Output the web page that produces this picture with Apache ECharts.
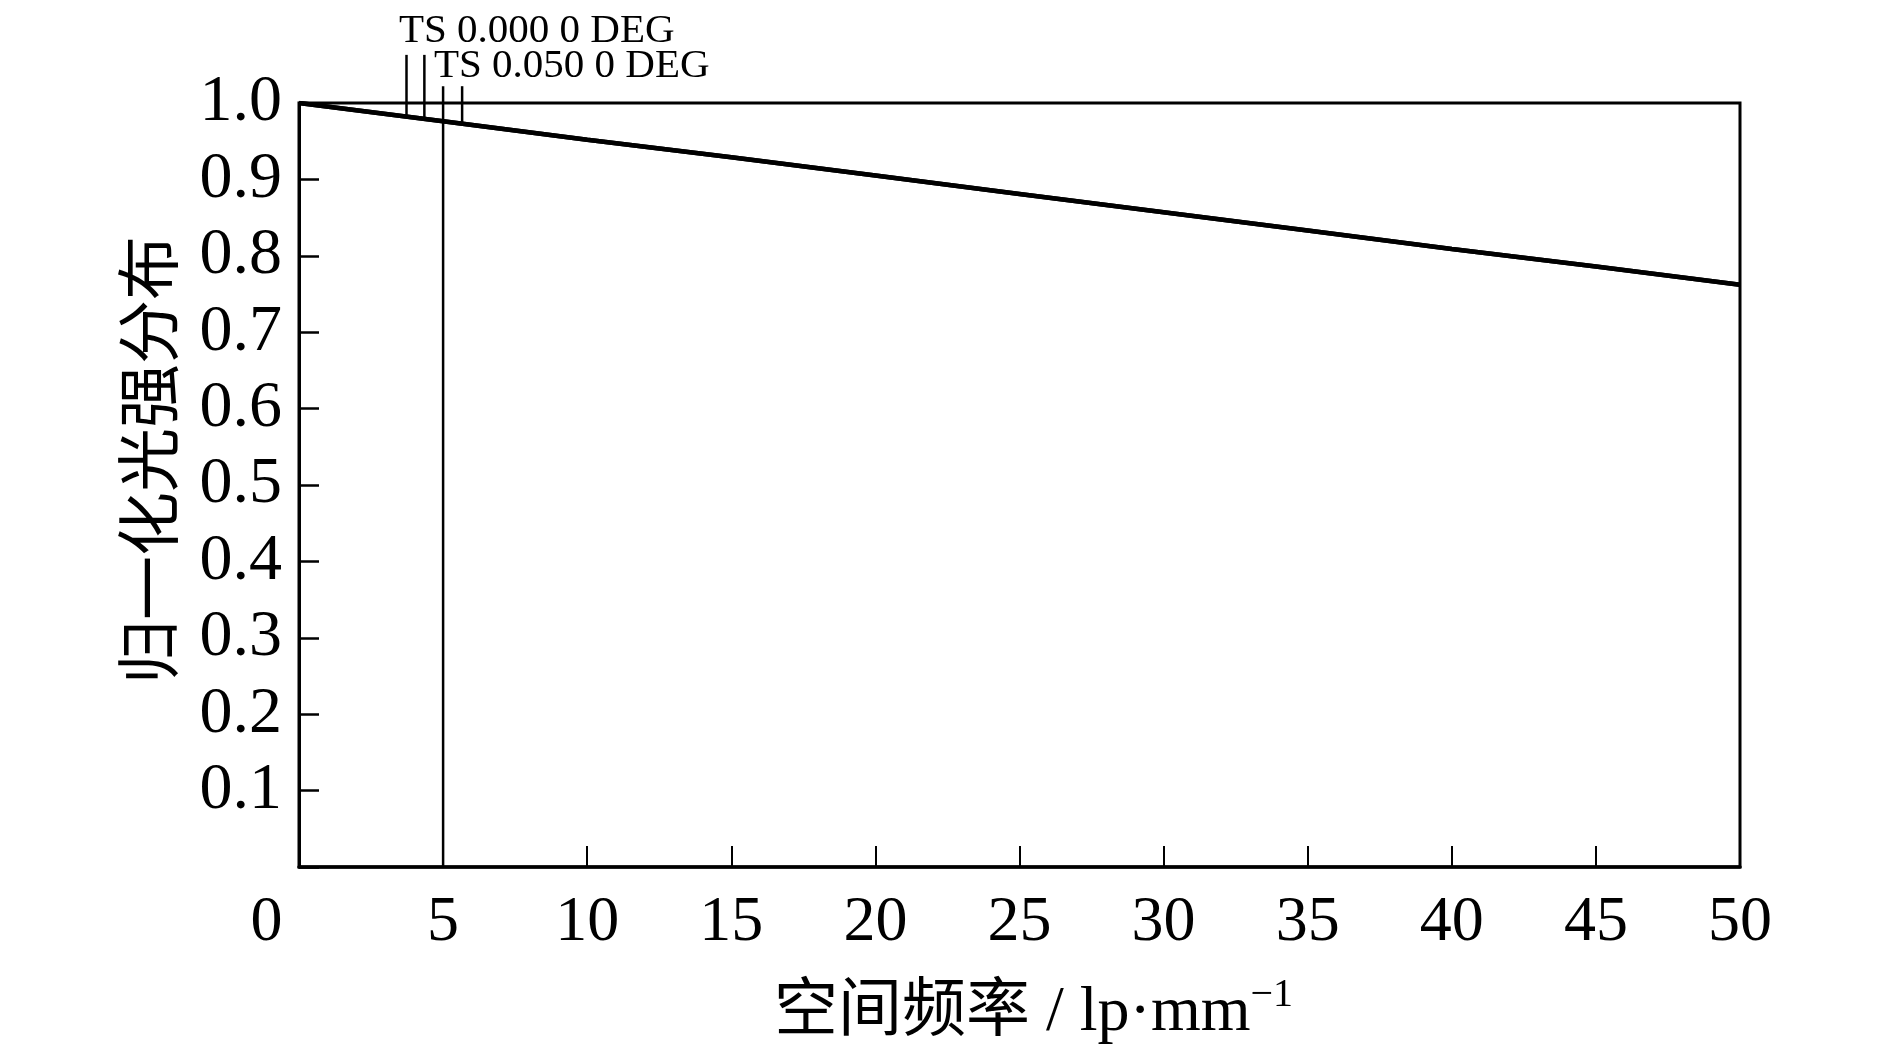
<!DOCTYPE html>
<html>
<head>
<meta charset="utf-8">
<script src="https://cdn.jsdelivr.net/npm/echarts@6/dist/echarts.min.js"></script>
<style>
html,body{margin:0;padding:0;background:#fff;}
#main{width:1890px;height:1063px;}
</style>
</head>
<body>
<div id="main"></div>
<script>
// Spatial frequency (lp/mm) and normalized intensity
const freq = [0, 5, 10, 15, 20, 25, 30, 35, 40, 45, 50];
const ts000 = [1.000, 0.976, 0.952, 0.929, 0.905, 0.881, 0.857, 0.833, 0.809, 0.786, 0.762];
const ts050 = [1.000, 0.976, 0.952, 0.929, 0.905, 0.881, 0.857, 0.833, 0.809, 0.786, 0.762];
const seriesNames = ['TS 0.000 0 DEG', 'TS 0.050 0 DEG'];
// legend marker lines: x position, top value, bottom value
const marker1X = [3.73, 4.35];
const marker1Top = 1.063;
const marker1Bottom = [0.982, 0.979];
const marker2X = [5.0, 5.66];
const marker2Top = 1.022;
const marker2Bottom = [0.0, 0.973];
const xTicks = [0, 5, 10, 15, 20, 25, 30, 35, 40, 45, 50];
const yTicks = [0, 0.1, 0.2, 0.3, 0.4, 0.5, 0.6, 0.7, 0.8, 0.9, 1.0];

const serif = '"Liberation Serif", "Times New Roman", "Noto Sans CJK SC", serif';

function pairs(xs, ys) { return xs.map((x, i) => [x, ys[i]]); }
function markerSeries(xs, top, bottoms, name) {
  return xs.map((x, i) => ({
    type: 'line', name: name + ' marker', data: [[x, top], [x, bottoms[i]]],
    symbol: 'none', clip: false, silent: true,
    lineStyle: { color: '#000', width: 2.5 }, z: 5
  }));
}

const chart = echarts.init(document.getElementById('main'));
chart.setOption({
  animation: false,
  backgroundColor: '#fff',
  legend: [
    { data: [seriesNames[0]], left: 393, top: 11, padding: 0, itemWidth: 0, itemHeight: 0,
      textStyle: { fontFamily: serif, fontSize: 41, color: '#000' }, selectedMode: false },
    { data: [seriesNames[1]], left: 428, top: 46, padding: 0, itemWidth: 0, itemHeight: 0,
      textStyle: { fontFamily: serif, fontSize: 41, color: '#000' }, selectedMode: false }
  ],
  grid: { left: 299, right: 150, top: 103, bottom: 196, show: true, borderColor: '#000', borderWidth: 3, backgroundColor: 'transparent' },
  xAxis: {
    type: 'value', min: 0, max: 50, interval: 5,
    name: '空间频率 / lp·mm{sup|−1}', nameLocation: 'middle', nameGap: 108,
    nameTextStyle: { fontFamily: serif, fontSize: 64, color: '#000', padding: [0, 0, 0, 28],
      rich: { sup: { fontFamily: serif, fontSize: 40, color: '#000', padding: [0, 0, 36, 0] } } },
    axisLine: { show: true, lineStyle: { color: '#000', width: 3.5 } },
    axisTick: { show: true, inside: true, length: 21, lineStyle: { color: '#000', width: 2 } },
    splitLine: { show: false },
    axisLabel: {
      margin: 24, fontFamily: serif, fontSize: 64, color: '#000',
      formatter: v => v === 0 ? '{z|0}' : String(v),
      rich: { z: { fontFamily: serif, fontSize: 64, color: '#000', padding: [0, 65, 0, 0] } }
    }
  },
  yAxis: {
    type: 'value', min: 0, max: 1, interval: 0.1,
    name: '归一化光强分布', nameLocation: 'middle', nameGap: 112, nameRotate: 90,
    nameTextStyle: { fontFamily: serif, fontSize: 64, color: '#000', padding: [0, 0, 0, 50] },
    axisLine: { show: true, lineStyle: { color: '#000', width: 3 } },
    axisTick: { show: true, inside: true, length: 20, lineStyle: { color: '#000', width: 2.5 } },
    splitLine: { show: false },
    axisLabel: {
      margin: 17, fontFamily: serif, fontSize: 66, color: '#000',
      formatter: v => v === 0 ? '' : v.toFixed(1)
    }
  },
  series: [
    { type: 'line', name: seriesNames[0], data: pairs(freq, ts000), symbol: 'none',
      lineStyle: { color: '#000', width: 4.5 }, itemStyle: { color: '#000' }, z: 4 },
    { type: 'line', name: seriesNames[1], data: pairs(freq, ts050), symbol: 'none',
      lineStyle: { color: '#000', width: 4.5 }, itemStyle: { color: '#000' }, z: 4 },
    ...markerSeries(marker1X, marker1Top, marker1Bottom, seriesNames[0]),
    ...markerSeries(marker2X, marker2Top, marker2Bottom, seriesNames[1])
  ]
});
</script>
</body>
</html>
